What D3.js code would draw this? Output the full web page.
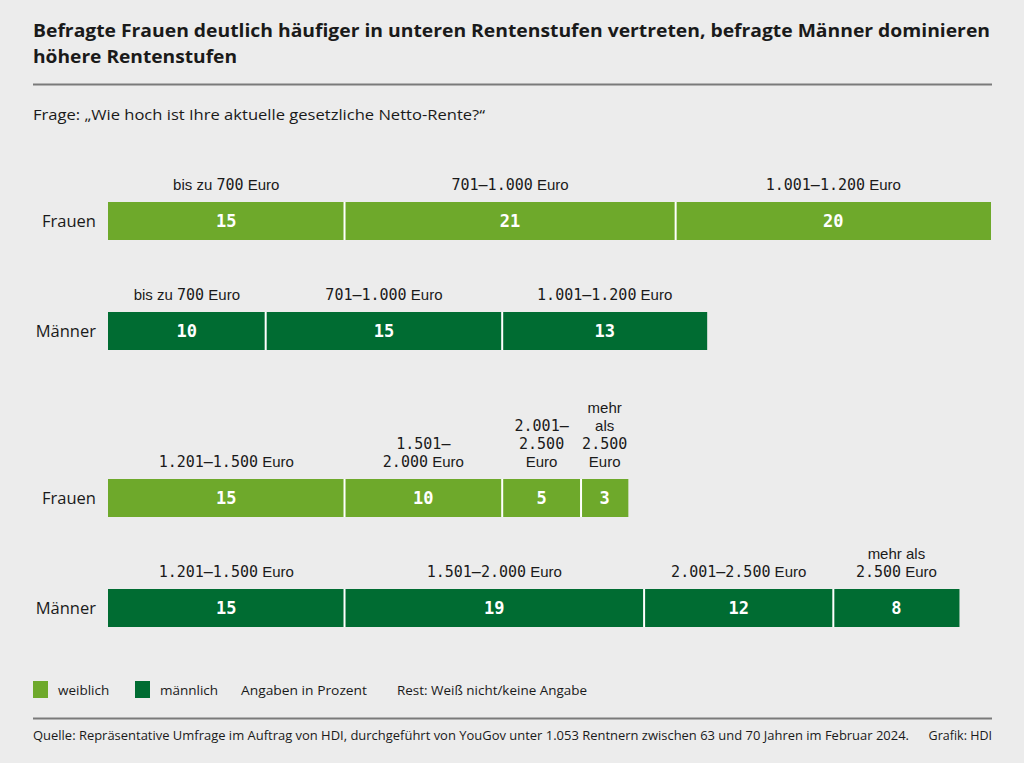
<!DOCTYPE html>
<html><head><meta charset="utf-8">
<script src="https://cdn.jsdelivr.net/npm/d3@7"></script>
<style>
html,body{margin:0;padding:0;background:#ececec;}
svg{display:block;}
</style></head>
<body>
<script>
// ---- data ----
const rowNames = ["Frauen", "Männer", "Frauen", "Männer"];
const rowGender = ["w", "m", "w", "m"];
const frauenLow = [15, 21, 20];
const maennerLow = [10, 15, 13];
const frauenHigh = [15, 10, 5, 3];
const maennerHigh = [15, 19, 12, 8];
const catFrauenLow = ["bis zu 700 Euro", "701–1.000 Euro", "1.001–1.200 Euro"];
const catMaennerLow = ["bis zu 700 Euro", "701–1.000 Euro", "1.001–1.200 Euro"];
const catFrauenHigh = ["1.201–1.500 Euro", "1.501–\n2.000 Euro", "2.001–\n2.500\nEuro", "mehr\nals\n2.500\nEuro"];
const catMaennerHigh = ["1.201–1.500 Euro", "1.501–2.000 Euro", "2.001–2.500 Euro", "mehr als\n2.500 Euro"];
const legendLabels = ["weiblich", "männlich"];
const title = ["Befragte Frauen deutlich häufiger in unteren Rentenstufen vertreten, befragte Männer dominieren", "höhere Rentenstufen"];
const subtitle = "Frage: „Wie hoch ist Ihre aktuelle gesetzliche Netto-Rente?“";
const noteTexts = ["Angaben in Prozent", "Rest: Weiß nicht/keine Angabe"];
const source = "Quelle: Repräsentative Umfrage im Auftrag von HDI, durchgeführt von YouGov unter 1.053 Rentnern zwischen 63 und 70 Jahren im Februar 2024.";
const credit = "Grafik: HDI";

const rows = [
  {name: rowNames[0], g: rowGender[0], values: frauenLow, cats: catFrauenLow},
  {name: rowNames[1], g: rowGender[1], values: maennerLow, cats: catMaennerLow},
  {name: rowNames[2], g: rowGender[2], values: frauenHigh, cats: catFrauenHigh},
  {name: rowNames[3], g: rowGender[3], values: maennerHigh, cats: catMaennerHigh}
];

// ---- layout ----
const W = 1024, H = 763;
const colors = {w: "#6ea92b", m: "#006c32"};
const sans = "'Open Sans', 'Noto Sans', sans-serif";
const labelSans = "'Liberation Sans', Arial, sans-serif";
const mono = "'DejaVu Sans Mono', monospace";
const rowTops = [202, 312, 479, 589];
const barH = 38;

const svg = d3.select("body").append("svg").attr("width", W).attr("height", H);
svg.append("rect").attr("width", W).attr("height", H).attr("fill", "#ececec");

const x = d3.scaleLinear().domain([0, 56]).range([108, 991]);
const y = d3.scaleOrdinal().domain(d3.range(rows.length)).range(rowTops);

// title
svg.append("text").attr("x", 33).attr("y", 37).attr("font-family", sans).attr("font-weight", 700)
  .attr("font-size", 18.5).attr("fill", "#1a1a1a").attr("textLength", 957).attr("lengthAdjust", "spacingAndGlyphs").text(title[0]);
svg.append("text").attr("x", 33).attr("y", 63).attr("font-family", sans).attr("font-weight", 700)
  .attr("font-size", 18.5).attr("fill", "#1a1a1a").attr("textLength", 204).attr("lengthAdjust", "spacingAndGlyphs").text(title[1]);
svg.append("line").attr("x1", 33).attr("x2", 992).attr("y1", 84.5).attr("y2", 84.5).attr("stroke", "#7a7a7a").attr("stroke-width", 2);
svg.append("text").attr("x", 33).attr("y", 120).attr("font-family", sans).attr("font-size", 15)
  .attr("fill", "#1a1a1a").attr("textLength", 452).attr("lengthAdjust", "spacingAndGlyphs").text(subtitle);

// label with mixed font (numbers mono)
function mixedText(sel, str) {
  const parts = str.split(/([\d.–]+)/).filter(s => s.length);
  parts.forEach(p => {
    sel.append("tspan").attr("font-family", /[\d]/.test(p) ? mono : labelSans).text(p);
  });
}

rows.forEach((row, ri) => {
  const g = svg.append("g");
  const top = y(ri);
  let cum = 0;
  const segs = row.values.map((v, i) => { const s = {v, i, x0: cum, x1: cum + v, cat: row.cats[i]}; cum += v; return s; });
  g.append("text").attr("x", 96).attr("y", top + barH / 2 + 5.5).attr("text-anchor", "end")
    .attr("font-family", sans).attr("font-size", 16.5).attr("fill", "#1a1a1a").text(row.name);
  g.selectAll("rect.seg").data(segs).join("rect").attr("class", "seg")
    .attr("x", d => x(d.x0)).attr("y", top).attr("width", d => x(d.x1) - x(d.x0)).attr("height", barH)
    .attr("fill", colors[row.g]);
  g.selectAll("line.sep").data(segs.slice(1)).join("line").attr("class", "sep")
    .attr("x1", d => x(d.x0)).attr("x2", d => x(d.x0)).attr("y1", top).attr("y2", top + barH)
    .attr("stroke", "#ffffff").attr("stroke-width", 2);
  g.selectAll("text.val").data(segs).join("text").attr("class", "val")
    .attr("x", d => (x(d.x0) + x(d.x1)) / 2).attr("y", top + barH / 2 + 6)
    .attr("text-anchor", "middle").attr("font-family", mono).attr("font-weight", 700)
    .attr("font-size", 17).attr("fill", "#ffffff").text(d => d.v);
  segs.forEach(d => {
    const lines = d.cat.split("\n");
    const cx = (x(d.x0) + x(d.x1)) / 2;
    lines.forEach((ln, li) => {
      const t = g.append("text").attr("x", cx).attr("y", top - 12 - (lines.length - 1 - li) * 18)
        .attr("text-anchor", "middle").attr("font-size", 15).attr("fill", "#1a1a1a");
      mixedText(t, ln);
    });
  });
});

// legend
const lg = svg.append("g");
[["w", 33, legendLabels[0], 58], ["m", 135, legendLabels[1], 160]].forEach(([k, sx, lab, tx]) => {
  lg.append("rect").attr("x", sx).attr("y", 681).attr("width", 15).attr("height", 17).attr("fill", colors[k]);
  lg.append("text").attr("x", tx).attr("y", 695).attr("font-family", sans).attr("font-size", 13.5).attr("fill", "#1a1a1a").text(lab);
});
lg.append("text").attr("x", 241).attr("y", 695).attr("font-family", sans).attr("font-size", 13.5).attr("fill", "#1a1a1a")
  .attr("textLength", 126).attr("lengthAdjust", "spacingAndGlyphs").text(noteTexts[0]);
lg.append("text").attr("x", 397).attr("y", 695).attr("font-family", sans).attr("font-size", 13.5).attr("fill", "#1a1a1a")
  .attr("textLength", 190).attr("lengthAdjust", "spacingAndGlyphs").text(noteTexts[1]);

svg.append("line").attr("x1", 33).attr("x2", 992).attr("y1", 718.5).attr("y2", 718.5).attr("stroke", "#7a7a7a").attr("stroke-width", 2);
svg.append("text").attr("x", 33).attr("y", 740).attr("font-family", sans).attr("font-size", 12.5).attr("fill", "#1a1a1a")
  .attr("textLength", 876).attr("lengthAdjust", "spacingAndGlyphs").text(source);
svg.append("text").attr("x", 992).attr("y", 740).attr("text-anchor", "end").attr("font-family", sans).attr("font-size", 12.5).attr("fill", "#1a1a1a")
  .text(credit);
</script>
</body></html>
